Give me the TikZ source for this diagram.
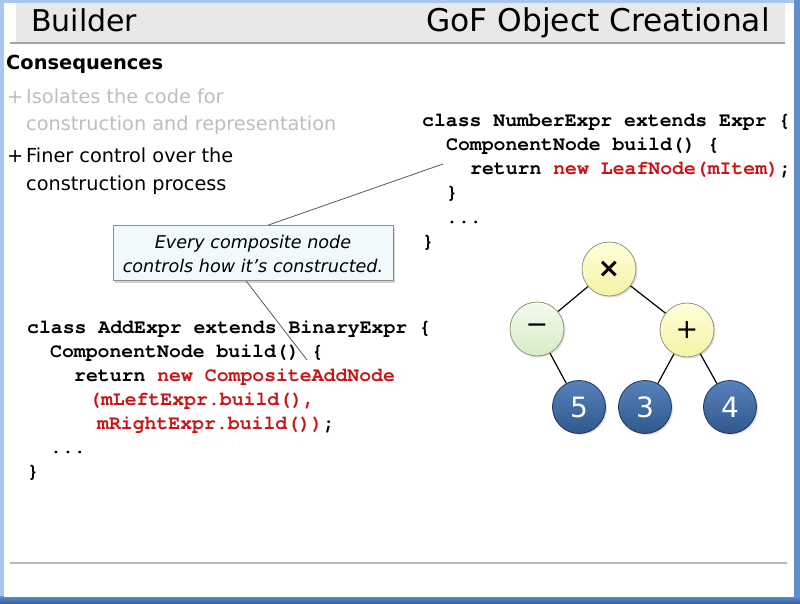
\documentclass[tikz,border=0pt]{standalone}
\usepackage{fontspec}
\setmainfont{DejaVu Sans}
\newfontfamily\codefont{texgyrecursor-bold.otf}
\usetikzlibrary{shadows,calc}
\definecolor{framebl}{RGB}{168,198,238}
\definecolor{framedk}{RGB}{47,95,160}
\definecolor{framemid}{RGB}{95,142,206}
\definecolor{titlegray}{RGB}{232,232,232}
\definecolor{ruleline}{RGB}{165,165,165}
\definecolor{bullgray}{RGB}{190,190,190}
\definecolor{codered}{RGB}{200,20,20}
\definecolor{notefill}{RGB}{240,249,252}
\definecolor{noteborder}{RGB}{140,140,140}
\definecolor{yellowtop}{RGB}{255,255,218}
\definecolor{yellowbot}{RGB}{246,242,165}
\definecolor{greentop}{RGB}{244,251,238}
\definecolor{greenbot}{RGB}{214,236,198}
\definecolor{bluetop}{RGB}{88,130,186}
\definecolor{bluebot}{RGB}{48,88,143}
\definecolor{blueborder}{RGB}{28,52,88}
\definecolor{opborder}{RGB}{150,150,125}
\begin{document}
\begin{tikzpicture}[x=1pt,y=-1pt,
  titletext/.style={font=\fontsize{30}{36}\selectfont, inner sep=0pt, anchor=base west},
  headtext/.style={font=\bfseries\fontsize{19.4}{24}\selectfont, inner sep=0pt, anchor=base west},
  bodytext/.style={font=\fontsize{19.3}{24}\selectfont, inner sep=0pt, anchor=base west},
  codetext/.style={font=\codefont\fontsize{19.8}{24}\selectfont, inner sep=0pt, anchor=base west},
  notebox/.style={draw=noteborder, fill=notefill, line width=0.8pt, minimum width=280pt, minimum height=55pt, inner sep=0pt,
    drop shadow={shadow xshift=2pt, shadow yshift=-2.5pt, opacity=0.35}},
  notetext/.style={font=\itshape\fontsize{17.6}{24}\selectfont, inner sep=0pt, anchor=base},
  conn/.style={draw=black!65, line width=0.8pt},
  opnode/.style={circle, minimum size=54pt, inner sep=0pt, draw=opborder, line width=0.8pt,
    font=\fontsize{27}{27}\selectfont,
    drop shadow={shadow xshift=1.5pt, shadow yshift=-1.5pt, opacity=0.25}},
  yellownode/.style={opnode, top color=yellowtop, bottom color=yellowbot},
  greennode/.style={opnode, top color=greentop, bottom color=greenbot},
  bluenode/.style={opnode, minimum size=53pt, draw=blueborder, top color=bluetop, bottom color=bluebot, text=white, font=\fontsize{28}{28}\selectfont},
  edge/.style={draw=black, line width=1.2pt}
]
\useasboundingbox (0,0) rectangle (800,604);
% frame
\fill[framebl] (0,0) rectangle (800,604);
\fill[framemid] (794,0) rectangle (800,604);
\shade[top color=framemid, bottom color=framedk] (0,596) rectangle (800,604);
\fill[white] (4,3.5) rectangle (794,597);
% title bar
\fill[titlegray] (16,3.5) rectangle (785,42);
\draw[ruleline, line width=2pt] (10,43.5) -- (785,43.5);
\node[titletext] (ttl) at (31,32) {Builder};
\node[titletext, anchor=base east, font=\fontsize{31.3}{36}\selectfont] (ttr) at (770,32) {GoF Object Creational};
% bottom rule
\draw[ruleline!80, line width=2pt] (10,562.5) -- (787,562.5);
% left text
\node[headtext] (head) at (6,70) {Consequences};
\node[bodytext, text=bullgray] (b1p) at (7,104) {+};
\node[bodytext, text=bullgray] (b1a) at (26,104) {Isolates the code for};
\node[bodytext, text=bullgray] (b1b) at (26,131) {construction and representation};
\node[bodytext] (b2p) at (7,163) {+};
\node[bodytext] (b2a) at (26,163) {Finer control over the};
\node[bodytext] (b2b) at (26,190) {construction process};
% NumberExpr code
\node[codetext] (n1) at (422,127) {class NumberExpr extends Expr \{};
\node[codetext] (n2) at (446,151) {ComponentNode build() \{};
\node[codetext] (n3) at (470,175) {return \textcolor{codered}{new LeafNode(mItem)};};
\node[codetext] (n4) at (446,199) {\}};
\node[codetext] (n5) at (446,223) {...};
\node[codetext] (n6) at (422,247) {\}};
% AddExpr code
\node[codetext] (a1) at (27,333) {class AddExpr extends BinaryExpr \{};
\node[codetext] (a2) at (50,357) {ComponentNode build() \{};
\node[codetext] (a3) at (74,381) {return \textcolor{codered}{new CompositeAddNode}};
\node[codetext, text=codered] (a4) at (89,405) {(mLeftExpr.build(),};
\node[codetext] (a5) at (97,429) {\textcolor{codered}{mRightExpr.build())};};
\node[codetext] (a6) at (50,453) {...};
\node[codetext] (a7) at (27,477) {\}};
% callout
\coordinate (note) at (253,252.5);
\coordinate (tipA) at (443,164);
\coordinate (tipB) at (307,360);
\draw[conn] ($(note)+(14,-27)$) -- (tipA);
\draw[conn] ($(note)+(-8,27)$) -- (tipB);
\node[notebox] (box) at (note) {};
\node[notetext] (nt1) at (253,248) {Every composite node};
\node[notetext] (nt2) at (253,272) {controls how it’s constructed.};
% tree
\node[yellownode] (times) at (609,269) {\bfseries ×};
\node[greennode] (minus) at (537,329) {−};
\node[yellownode] (plus) at (687,330) {+};
\node[bluenode] (five) at (579,407) {5};
\node[bluenode] (three) at (645,407) {3};
\node[bluenode] (four) at (730,407) {4};
\draw[edge] (times) -- (minus);
\draw[edge] (times) -- (plus);
\draw[edge] (minus) -- (five);
\draw[edge] (plus) -- (three);
\draw[edge] (plus) -- (four);
\end{tikzpicture}
\end{document}
